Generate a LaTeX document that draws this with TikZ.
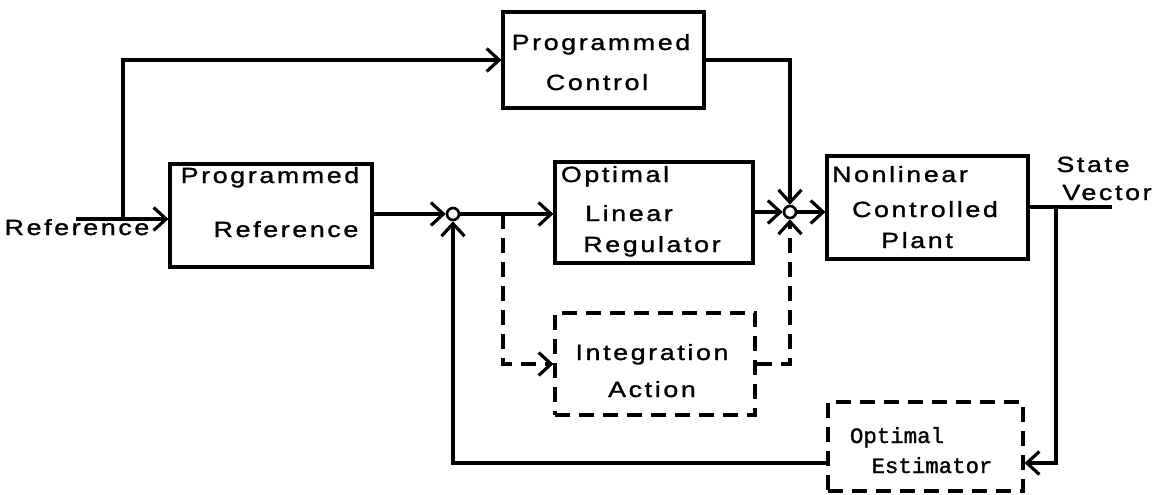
\documentclass[tikz,border=0pt]{standalone}
\usepackage{fontspec}
\setmainfont{Liberation Sans}[FakeStretch=1.22,LetterSpace=12,FakeBold=1.3]
\newfontfamily\estfont{Liberation Mono}[FakeStretch=1.02,FakeBold=1.3]
\usetikzlibrary{arrows.meta}
\begin{document}
\begin{tikzpicture}[x=0.02cm,y=-0.02cm,
  line width=1.8pt,
  blk/.style={draw, line width=1.8pt, inner sep=0pt},
  dblk/.style={blk, dash pattern=on 3mm off 1.8mm},
  txt/.style={anchor=base, inner sep=0pt, font=\fontsize{12.5}{14}\selectfont},
  mtxt/.style={anchor=base, inner sep=0pt, font=\estfont\fontsize{12.5}{14}\selectfont},
  arr/.style={-{Straight Barb[length=2.5mm,width=4.6mm]}},
  dsh/.style={dash pattern=on 3mm off 1.8mm},
  sj/.style={circle, draw, minimum size=0.24cm, inner sep=0pt, line width=1.5pt}]
\useasboundingbox (0,0) rectangle (1167,494);

% blocks
\node[blk, minimum width=4.04cm, minimum height=2.06cm] (pref) at (271,215.5) {};
\node[blk, minimum width=4.02cm, minimum height=1.92cm] (pc) at (603.5,60) {};
\node[blk, minimum width=3.96cm, minimum height=2.02cm] (reg) at (654,212.5) {};
\node[blk, minimum width=4.02cm, minimum height=2.06cm] (plant) at (927.5,207.5) {};
\node[dblk, minimum width=4.00cm, minimum height=2.04cm] (ia) at (655,364) {};
\node[dblk, minimum width=3.90cm, minimum height=1.78cm] (est) at (925.5,446.5) {};

% summing junctions
\node[sj] (c1) at (453,214) {};
\node[sj] (c2) at (790,212) {};

% labels
\node[txt] (tref) at (77,235) {Reference};
\node[txt] (tpr1) at (270,183) {Programmed};
\node[txt] (tpr2) at (286,237) {Reference};
\node[txt] (tpc1) at (601,50) {Programmed};
\node[txt] (tpc2) at (597,90) {Control};
\node[txt] (treg1) at (615,182) {Optimal};
\node[txt] (treg2) at (629,221) {Linear};
\node[txt] (treg3) at (652,252) {Regulator};
\node[txt] (tpl1) at (900,182) {Nonlinear};
\node[txt] (tpl2) at (925,217) {Controlled};
\node[txt] (tpl3) at (917,248) {Plant};
\node[txt] (tia1) at (652,360) {Integration};
\node[txt] (tia2) at (652,397) {Action};
\node[mtxt] (test1) at (897,443) {Optimal};
\node[mtxt] (test2) at (932,473) {Estimator};
\node[txt] (tsv1) at (1093,172) {State};
\node[txt] (tsv2) at (1107,200) {Vector};

% connection points
\coordinate (rin) at (76,219);
\coordinate (rb) at (123,219);
\coordinate (db) at (503,214);
\coordinate (sv) at (1112,207);
\coordinate (br) at (1056,207);
\coordinate (fb) at (453,463);

% reference input and programmed control branch
\draw[arr] (rin) -- (rin -| pref.west);
\draw[arr] (rb) |- (pc.west);
\draw[arr] (pc.east) -| (c2.north);

% forward path
\draw[arr] (pref.east |- c1) -- (c1.west);
\draw[arr] (c1.east) -- (c1 -| reg.west);
\draw[arr] (reg.east |- c2) -- (c2.west);
\draw[arr] (c2.east) -- (c2 -| plant.west);
\draw (plant.east |- sv) -- (sv);

% integral action (dashed)
\draw[arr, dsh] (db) |- (ia.west);
\draw[arr, dsh] (ia.east) -| (c2.south);

% estimator feedback
\draw[arr] (br) |- (est.east |- fb);
\draw[arr] (est.west |- fb) -- (fb) -- (c1.south);
\end{tikzpicture}
\end{document}
